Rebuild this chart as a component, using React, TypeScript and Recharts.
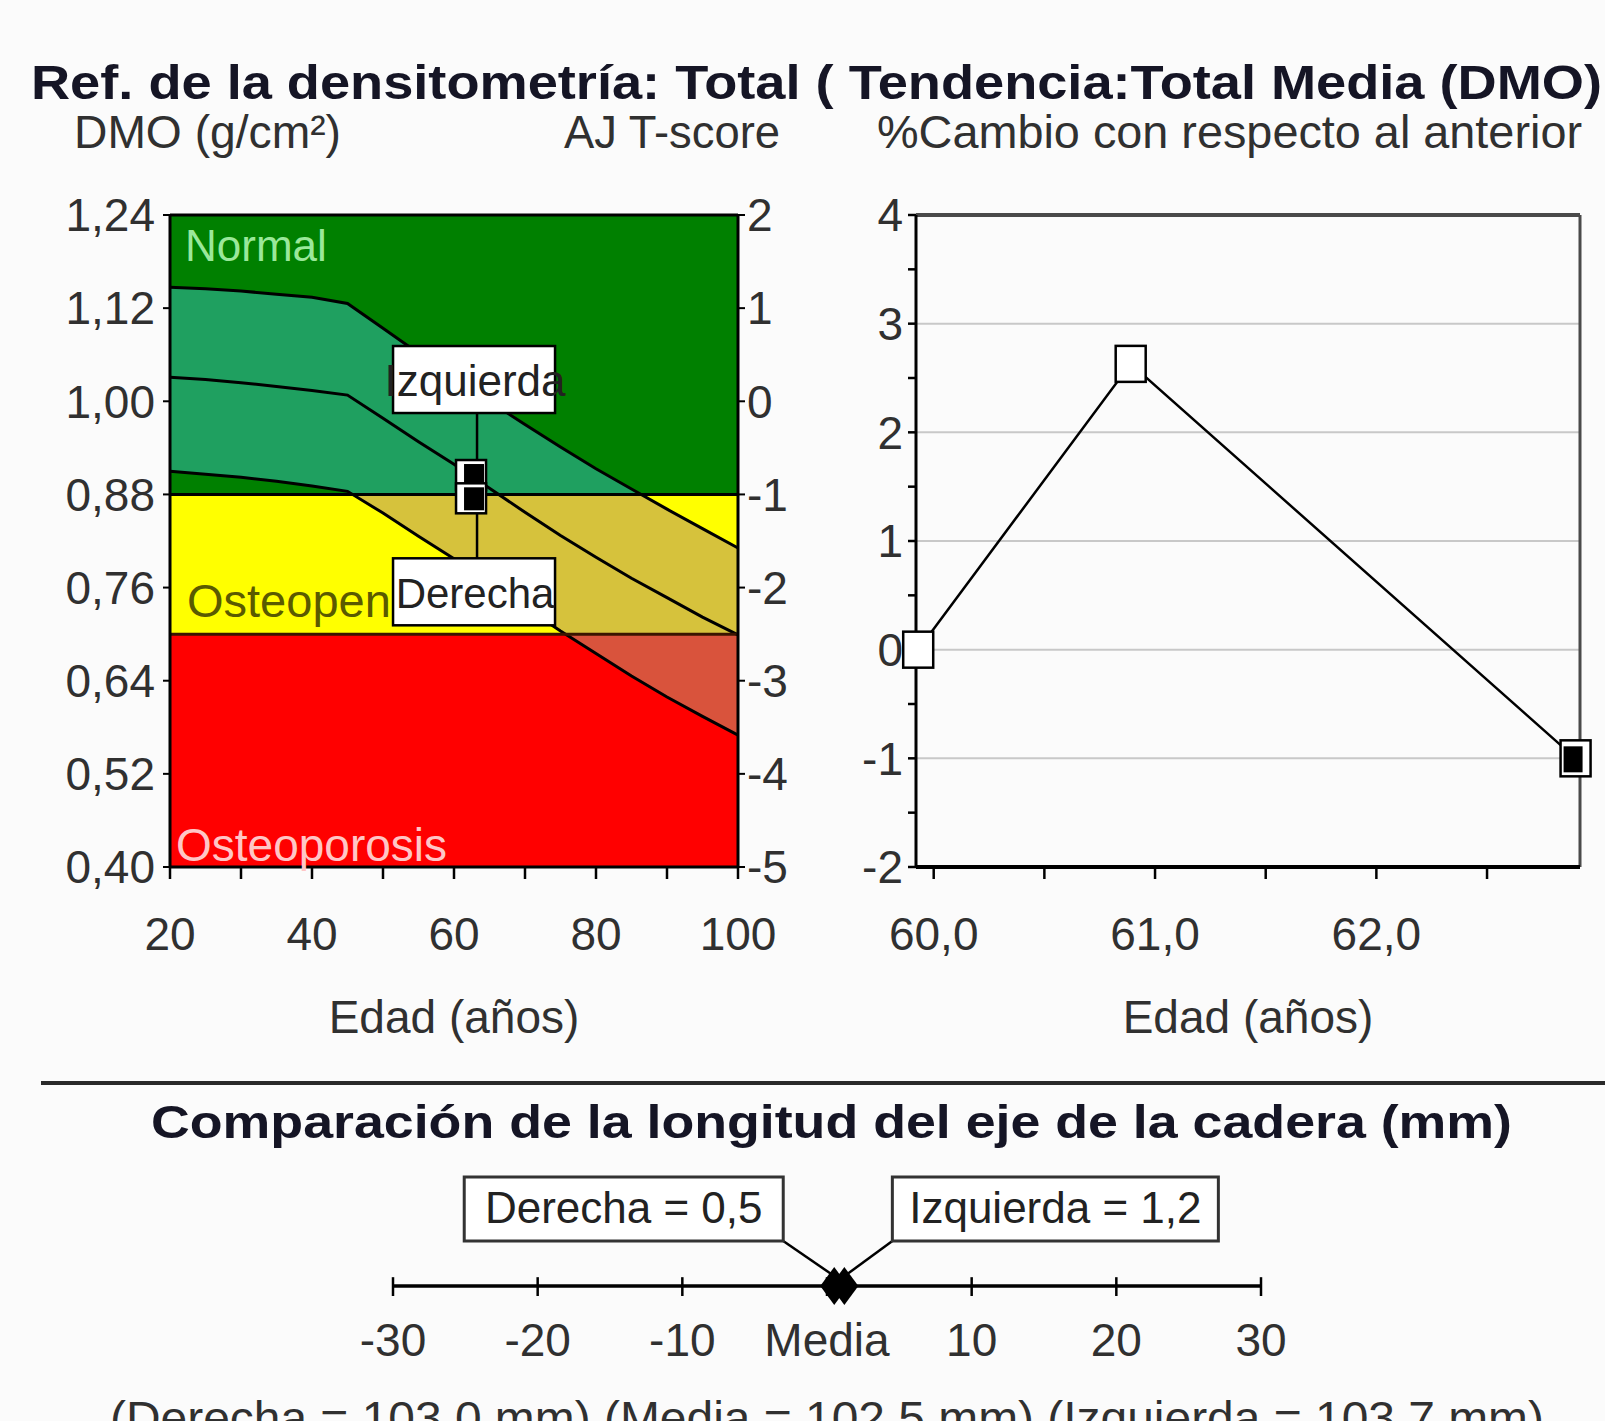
import React from 'react';
import {
  ComposedChart,
  LineChart,
  Line,
  Area,
  XAxis,
  YAxis,
  ReferenceArea,
  ReferenceLine,
  Scatter,
  Label,
} from 'recharts';

// ---------------- Data: densitometry reference (left) ----------------
const ages = [20, 25, 30, 35, 40, 45, 50, 55, 60, 65, 70, 75, 80, 85, 90, 95, 100];
const upperCurve = [1.147, 1.145, 1.142, 1.138, 1.134, 1.126, 1.094, 1.062, 1.031, 1.0, 0.97, 0.941, 0.913, 0.887, 0.861, 0.836, 0.811];
const meanCurve = [1.031, 1.028, 1.024, 1.019, 1.014, 1.008, 0.978, 0.948, 0.919, 0.888, 0.857, 0.827, 0.799, 0.772, 0.747, 0.722, 0.699];
const lowerCurve = [0.91, 0.906, 0.902, 0.897, 0.891, 0.884, 0.856, 0.826, 0.797, 0.766, 0.735, 0.704, 0.675, 0.646, 0.619, 0.594, 0.57];
const dmoTicks = [0.4, 0.52, 0.64, 0.76, 0.88, 1.0, 1.12, 1.24];
const tScoreTicks = [-5, -4, -3, -2, -1, 0, 1, 2];
const ageTicks = [20, 30, 40, 50, 60, 70, 80, 90, 100];
const ageLabels = [20, 40, 60, 80, 100];
const bandNames = ['Normal', 'Osteopen', 'Osteoporosis'];
const bandLimits = [1.24, 0.88, 0.7, 0.4];
const patientLabels = ['Izquierda', 'Derecha'];
const patientAges = [62.4, 62.4];
const patientDmo = [0.905, 0.875];

// ---------------- Data: trend (right) ----------------
const trendAges = [59.93, 60.89, 62.9];
const trendChange = [0, 2.63, -1.0];
const trendDomain = [59.92, 62.92];
const trendXTicks = [60, 60.5, 61, 61.5, 62, 62.5];
const trendYTicks = [-2, -1.5, -1, -0.5, 0, 0.5, 1, 1.5, 2, 2.5, 3, 3.5, 4];
const trendGrid = [-1, 0, 1, 2, 3];

// ---------------- Data: hip axis length comparison (bottom) ----------------
const hipTicks = [-30, -20, -10, 0, 10, 20, 30];
const hipLabels = ['Derecha', 'Izquierda'];
const hipValues = [0.5, 1.2];
const hipLengthNames = ['Derecha', 'Media', 'Izquierda'];
const hipLengths = [103.0, 102.5, 103.7];

// ---------------- Styles ----------------
const FONT = '"Liberation Sans", Arial, sans-serif';
const BG = '#fbfbfb';
const TXT = '#303030';
const GREEN = '#008000';
const GREEN_SHADE = '#1fa060';
const YELLOW = '#ffff00';
const YELLOW_SHADE = '#d6c23c';
const RED = '#ff0000';
const RED_SHADE = '#d9533c';
const bandFills = [GREEN, YELLOW, RED];
const bandLabelColors = ['#9ae89a', '#5a5a00', '#ffc6c6'];

const comma = (v: number, d: number) => v.toFixed(d).replace('.', ',');

const leftData = ages.map((a, i) => ({
  age: a,
  upper: upperCurve[i],
  mean: meanCurve[i],
  lower: lowerCurve[i],
  range: [lowerCurve[i], upperCurve[i]],
}));
const maxU = Math.max(...upperCurve);
const minL = Math.min(...lowerCurve);
const off88 = (maxU - bandLimits[1]) / (maxU - minL);
const off70 = (maxU - bandLimits[2]) / (maxU - minL);

const patientData = patientLabels.map((l, i) => ({ label: l, age: patientAges[i], dmo: patientDmo[i] }));
const trendData = trendAges.map((a, i) => ({ age: a, change: trendChange[i] }));
const hipData = hipLabels.map((l, i) => ({ label: l, v: hipValues[i], y: 0 }));

const PatientShape = (props: any) => {
  const { cx, cy, payload } = props;
  const above = payload.label === patientLabels[0];
  const boxTop = above ? cy - 129 : cy + 60;
  const boxH = 67;
  const lineY1 = above ? boxTop + boxH : cy + 15;
  const lineY2 = above ? cy - 15 : boxTop;
  return (
    <g>
      <line x1={cx + 6} x2={cx + 6} y1={lineY1} y2={lineY2} stroke="#000" strokeWidth={2.5} />
      <rect x={cx - 78} y={boxTop} width={162} height={boxH} fill="#fff" stroke="#000" strokeWidth={2.5} />
      <text
        x={cx + 4}
        y={above ? cy - 79 : cy + 110}
        textAnchor="middle"
        fontSize={above ? 44 : 42}
        fontFamily={FONT}
        fill="#222"
      >
        {payload.label}
      </text>
      <rect x={cx - 15} y={cy - 15} width={30} height={30} fill="#fff" stroke="#000" strokeWidth={2.5} />
      <rect x={cx - 7} y={cy - 11} width={20} height={23} fill="#000" />
    </g>
  );
};

const TrendDot = (props: any) => {
  const { cx, cy, index } = props;
  const last = index === trendAges.length - 1;
  return (
    <g key={`td-${index}`}>
      <rect x={cx - 15} y={cy - 18} width={30} height={36} fill="#fff" stroke="#000" strokeWidth={2.5} />
      {last && <rect x={cx - 12} y={cy - 12} width={19} height={26} fill="#000" />}
    </g>
  );
};

const HipShape = (props: any) => {
  const { cx, cy, payload } = props;
  const left = payload.label === hipLabels[0];
  const boxW = left ? 319 : 326;
  const boxX = left ? cx - 51 - boxW : cx + 48;
  const boxY = cy - 109;
  const cornerX = left ? boxX + boxW : boxX;
  return (
    <g>
      <line x1={cornerX} y1={boxY + 64} x2={left ? cx - 3 : cx + 3} y2={cy - 12} stroke="#000" strokeWidth={2.5} />
      <rect x={boxX} y={boxY} width={boxW} height={64} fill="#fff" stroke="#333" strokeWidth={3} />
      <text x={boxX + boxW / 2} y={cy - 63} textAnchor="middle" fontSize={44} fontFamily={FONT} fill="#222">
        {`${payload.label} = ${comma(payload.v, 1)}`}
      </text>
      <path d={`M${cx},${cy - 19} L${cx + 14},${cy} L${cx},${cy + 19} L${cx - 14},${cy} Z`} fill="#000" />
    </g>
  );
};

const tickStyle = { fill: TXT, fontSize: 46, fontFamily: FONT };

function DensityChart() {
  return (
    <ComposedChart
      width={800}
      height={1060}
      data={leftData}
      margin={{ top: 215, right: 2, bottom: 23, left: 60 }}
    >
      <defs>
        <linearGradient id="zoneShade" x1="0" y1="0" x2="0" y2="1">
          <stop offset={0} stopColor={GREEN_SHADE} />
          <stop offset={off88} stopColor={GREEN_SHADE} />
          <stop offset={off88} stopColor={YELLOW_SHADE} />
          <stop offset={off70} stopColor={YELLOW_SHADE} />
          <stop offset={off70} stopColor={RED_SHADE} />
          <stop offset={1} stopColor={RED_SHADE} />
        </linearGradient>
      </defs>
      <XAxis
        dataKey="age"
        type="number"
        domain={[20, 100]}
        ticks={ageTicks}
        interval={0}
        tickFormatter={(v: number) => (ageLabels.includes(v) ? String(v) : '')}
        height={170}
        tickSize={12}
        tickMargin={38}
        axisLine={{ stroke: '#000', strokeWidth: 3 }}
        tickLine={{ stroke: '#000', strokeWidth: 2.5 }}
        tick={tickStyle}
      >
        <Label value="Edad (años)" position="insideBottom" offset={4} fill={TXT} fontSize={46} fontFamily={FONT} />
      </XAxis>
      <YAxis
        yAxisId="dmo"
        type="number"
        domain={[0.4, 1.24]}
        ticks={dmoTicks}
        interval={0}
        tickFormatter={(v: number) => comma(v, 2)}
        width={110}
        tickSize={7}
        tickMargin={8}
        axisLine={{ stroke: '#000', strokeWidth: 3 }}
        tickLine={{ stroke: '#000', strokeWidth: 2 }}
        tick={tickStyle}
      />
      <YAxis
        yAxisId="t"
        orientation="right"
        type="number"
        domain={[-5, 2]}
        allowDataOverflow
        ticks={tScoreTicks}
        interval={0}
        width={60}
        tickSize={7}
        tickMargin={2}
        axisLine={{ stroke: '#000', strokeWidth: 3 }}
        tickLine={{ stroke: '#000', strokeWidth: 2 }}
        tick={{ ...tickStyle, textAnchor: 'start' }}
      />
      {bandNames.map((name, i) => (
        <ReferenceArea
          key={name}
          yAxisId="dmo"
          y1={bandLimits[i + 1]}
          y2={bandLimits[i]}
          fill={bandFills[i]}
          fillOpacity={1}
          stroke="none"
        />
      ))}
      <Area
        yAxisId="dmo"
        dataKey="range"
        type="linear"
        fill="url(#zoneShade)"
        fillOpacity={1}
        stroke="none"
        isAnimationActive={false}
        activeDot={false}
      />
      <Line yAxisId="dmo" dataKey="upper" type="linear" stroke="#000" strokeWidth={3} dot={false} isAnimationActive={false} />
      <Line yAxisId="dmo" dataKey="mean" type="linear" stroke="#000" strokeWidth={3} dot={false} isAnimationActive={false} />
      <Line yAxisId="dmo" dataKey="lower" type="linear" stroke="#000" strokeWidth={3} dot={false} isAnimationActive={false} />
      <ReferenceLine yAxisId="dmo" y={bandLimits[0]} stroke="#000" strokeWidth={3} />
      <ReferenceLine yAxisId="dmo" y={bandLimits[1]} stroke="#000" strokeWidth={3} />
      <ReferenceLine yAxisId="dmo" y={bandLimits[2]} stroke="#3a1500" strokeWidth={3} />
      <ReferenceArea yAxisId="dmo" y1={bandLimits[1]} y2={bandLimits[0]} fill="none" stroke="none">
        <Label value={bandNames[0]} position="insideTopLeft" offset={15} fill={bandLabelColors[0]} fontSize={44} fontFamily={FONT} />
      </ReferenceArea>
      <ReferenceArea yAxisId="dmo" y1={bandLimits[2]} y2={bandLimits[1]} fill="none" stroke="none">
        <Label value={bandNames[1]} position="insideBottomLeft" offset={17} fill={bandLabelColors[1]} fontSize={47} fontFamily={FONT} />
      </ReferenceArea>
      <ReferenceArea yAxisId="dmo" y1={bandLimits[3]} y2={bandLimits[2]} fill="none" stroke="none">
        <Label value={bandNames[2]} position="insideBottomLeft" offset={6} fill={bandLabelColors[2]} fontSize={46} fontFamily={FONT} />
      </ReferenceArea>
      <Scatter
        yAxisId="dmo"
        data={patientData}
        dataKey="dmo"
        shape={PatientShape}
        isAnimationActive={false}
      />
    </ComposedChart>
  );
}

function TrendChart() {
  return (
    <LineChart width={805} height={1060} data={trendData} margin={{ top: 215, right: 25, bottom: 23, left: 46 }}>
      {trendGrid.map((g) => (
        <ReferenceLine key={`g${g}`} y={g} stroke="#c8c8c8" strokeWidth={2} />
      ))}
      <ReferenceLine y={trendYTicks[trendYTicks.length - 1]} stroke="#4a4a4a" strokeWidth={4} />
      <ReferenceLine x={trendDomain[1]} stroke="#4a4a4a" strokeWidth={3} />
      <XAxis
        dataKey="age"
        type="number"
        domain={trendDomain}
        ticks={trendXTicks}
        interval={0}
        tickFormatter={(v: number) => (Number.isInteger(v) ? comma(v, 1) : '')}
        height={170}
        tickSize={12}
        tickMargin={38}
        axisLine={{ stroke: '#000', strokeWidth: 4 }}
        tickLine={{ stroke: '#000', strokeWidth: 2.5 }}
        tick={tickStyle}
      >
        <Label value="Edad (años)" position="insideBottom" offset={4} fill={TXT} fontSize={46} fontFamily={FONT} />
      </XAxis>
      <YAxis
        type="number"
        domain={[-2, 4]}
        ticks={trendYTicks}
        interval={0}
        tickFormatter={(v: number) => (Number.isInteger(v) ? String(v) : '')}
        width={70}
        tickSize={8}
        tickMargin={5}
        axisLine={{ stroke: '#000', strokeWidth: 3 }}
        tickLine={{ stroke: '#000', strokeWidth: 2.5 }}
        tick={tickStyle}
      />
      <Line
        dataKey="change"
        type="linear"
        stroke="#000"
        strokeWidth={2.5}
        dot={TrendDot}
        activeDot={false}
        isAnimationActive={false}
      />
    </LineChart>
  );
}

function HipChart() {
  return (
    <ComposedChart width={1605} height={271} margin={{ top: 10, right: 344, bottom: 35, left: 393 }}>
      <XAxis
        dataKey="v"
        type="number"
        domain={[-30, 30]}
        ticks={hipTicks}
        interval={0}
        tickFormatter={(v: number) => (v === 0 ? 'Media' : String(v))}
        height={100}
        tickSize={10}
        tickMargin={27}
        axisLine={{ stroke: '#000', strokeWidth: 3.5 }}
        tickLine={{ stroke: '#000', strokeWidth: 2.5 }}
        tick={tickStyle}
      />
      <YAxis dataKey="y" type="number" domain={[0, 1]} hide />
      {hipTicks.map((t) => (
        <ReferenceLine
          key={`ht${t}`}
          segment={[
            { x: t, y: 0 },
            { x: t, y: 0.07 },
          ]}
          stroke="#000"
          strokeWidth={2.5}
        />
      ))}
      <Scatter data={hipData} dataKey="y" shape={HipShape} isAnimationActive={false} />
    </ComposedChart>
  );
}

export default function App() {
  const bottomText = hipLengthNames
    .map((n, i) => `(${n} = ${comma(hipLengths[i], 1)} mm)`)
    .join('  ');
  return (
    <div
      style={{
        position: 'absolute',
        left: 0,
        top: 0,
        width: 1605,
        height: 1421,
        background: BG,
        overflow: 'hidden',
        fontFamily: FONT,
      }}
    >
      <svg width={1605} height={1421} style={{ position: 'absolute', left: 0, top: 0 }}>
        <text x={31} y={99} fontSize={48} fontWeight="bold" fontFamily={FONT} fill="#151525" textLength={1571} lengthAdjust="spacingAndGlyphs">
          Ref. de la densitometría: Total ( Tendencia:Total Media (DMO)
        </text>
        <text x={74} y={148} fontSize={46} fontFamily={FONT} fill={TXT} textLength={267} lengthAdjust="spacingAndGlyphs">
          DMO (g/cm²)
        </text>
        <text x={564} y={148} fontSize={46} fontFamily={FONT} fill={TXT} textLength={216} lengthAdjust="spacingAndGlyphs">
          AJ T-score
        </text>
        <text x={877} y={148} fontSize={46} fontFamily={FONT} fill={TXT} textLength={705} lengthAdjust="spacingAndGlyphs">
          %Cambio con respecto al anterior
        </text>
        <line x1={41} x2={1605} y1={1083} y2={1083} stroke="#2a2a2a" strokeWidth={4} />
        <text x={151} y={1138} fontSize={46} fontWeight="bold" fontFamily={FONT} fill="#151525" textLength={1361} lengthAdjust="spacingAndGlyphs">
          Comparación de la longitud del eje de la cadera (mm)
        </text>
        <text x={110} y={1434} fontSize={46} fontFamily={FONT} fill={TXT} textLength={1434} lengthAdjust="spacingAndGlyphs">
          {bottomText}
        </text>
      </svg>
      <div style={{ position: 'absolute', left: 0, top: 0 }}>
        <DensityChart />
      </div>
      <div style={{ position: 'absolute', left: 800, top: 0 }}>
        <TrendChart />
      </div>
      <div style={{ position: 'absolute', left: 0, top: 1150 }}>
        <HipChart />
      </div>
    </div>
  );
}
